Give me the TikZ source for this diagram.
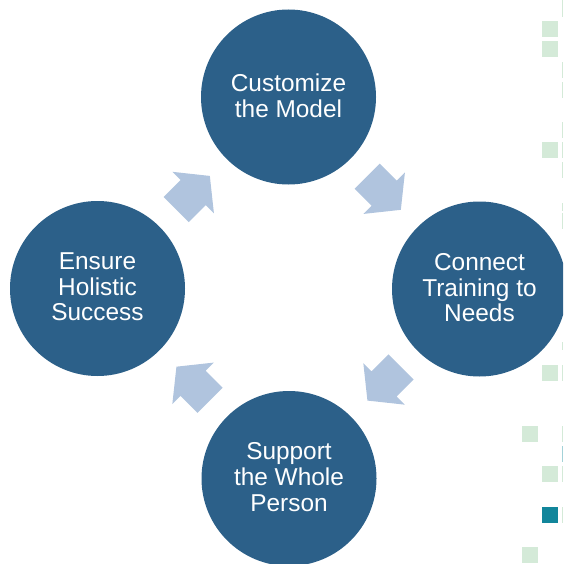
\documentclass[tikz,border=0pt]{standalone}
\usepackage{fontspec}
\setmainfont{Liberation Sans}
\usetikzlibrary{calc}
\definecolor{circblue}{HTML}{2C6089}
\definecolor{arrowblue}{HTML}{B0C4DE}
\definecolor{sqgreen}{HTML}{D4EAD8}
\definecolor{sqteal}{HTML}{12869B}
\definecolor{sqlteal}{HTML}{A3D2D8}
\newcommand\cyclearrow[3]{%
  \begin{scope}[shift={($(#1)!0.5!(#2)$)}, rotate=#3]
    \fill[arrowblue] (-23.8,-17.7) -- (0.2,-17.7) -- (0.2,-29.4) -- (23.8,0)
      -- (0.2,29.4) -- (0.2,17.7) -- (-23.8,17.7) -- cycle;
  \end{scope}}
\begin{document}
\begin{tikzpicture}[x=1pt,y=-1pt,
  stage/.style={circle, fill=circblue, minimum size=175pt, inner sep=0pt,
    text=white, align=center, text depth=3pt, font=\fontsize{24.4}{25.6}\selectfont},
  sqbox/.style={fill=sqgreen},
  sqdark/.style={fill=sqteal},
  sqlight/.style={fill=sqlteal}]
\useasboundingbox (0,0) rectangle (563,564);
\clip (0,0) rectangle (563,564);
% decorative squares at the right edge
\foreach \y in {21,41.5,142,365,466}
  \fill[sqbox] (542,\y) rectangle ++(16,16);
\fill[sqdark] (542,507) rectangle ++(16,16);
\foreach \y in {426,547}
  \fill[sqbox] (522,\y) rectangle ++(16,16);
\foreach \a/\b in {0/17,62/78,82/98,122/138,142/158,162/178,203/211,213/229,342/350,365/381,426/442,466/482,507/523}
  \fill[sqbox] (561.5,\a) rectangle (563,\b);
\fill[sqlight] (561.5,446) rectangle (563,462);
% stages
\node[stage] (top) at (288.5,97) {Customize\\the Model};
\node[stage] (right) at (479.5,289) {Connect\\Training to\\Needs};
\node[stage] (bottom) at (289,478.5) {Support\\the Whole\\Person};
\node[stage] (left) at (97.5,288.5) {Ensure\\Holistic\\Success};
% arrows
\cyclearrow{top}{right}{-45}
\cyclearrow{right}{bottom}{-135}
\cyclearrow{bottom}{left}{135}
\cyclearrow{left}{top}{45}
\end{tikzpicture}
\end{document}
